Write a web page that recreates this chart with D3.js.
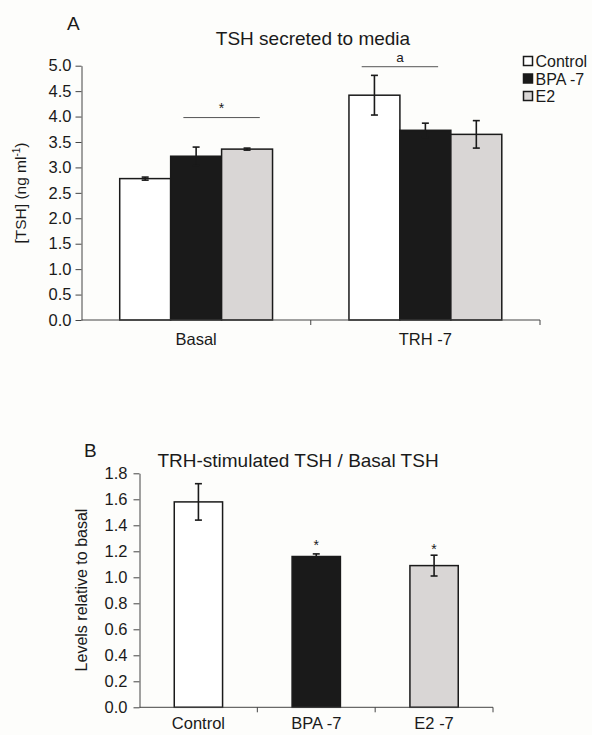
<!DOCTYPE html>
<html>
<head>
<meta charset="utf-8">
<script src="https://cdn.jsdelivr.net/npm/d3@7"></script>
<style>
  body { margin: 0; background: #fdfdfb; }
  svg { display: block; font-family: Arial, "Liberation Sans", sans-serif; }
</style>
</head>
<body>
<script>
// data
const groups = ["Basal", "TRH -7"];
const series = ["Control", "BPA -7", "E2"];
const basalMeans = [2.78, 3.22, 3.36];
const basalErr = [0.03, 0.18, 0.02];
const trhMeans = [4.42, 3.73, 3.65];
const trhErr = [0.39, 0.14, 0.27];
const ticksA = [0, 0.5, 1, 1.5, 2, 2.5, 3, 3.5, 4, 4.5, 5];

const ratioCats = ["Control", "BPA -7", "E2 -7"];
const ratioMeans = [1.58, 1.16, 1.09];
const ratioErr = [0.14, 0.02, 0.08];
const ticksB = [0, 0.2, 0.4, 0.6, 0.8, 1.0, 1.2, 1.4, 1.6, 1.8];

const fills = ["#ffffff", "#1a1a1a", "#d9d6d5"];
const ink = "#1a1a1a";

const width = 592, height = 735;
const svg = d3.select("body").append("svg")
    .attr("width", width)
    .attr("height", height);

// ---------- panel A ----------
const yA = d3.scaleLinear().domain([0, 5]).range([320, 65.7]);
const x0 = d3.scaleBand().domain(groups).range([81.5, 540]);
const x1 = d3.scaleBand().domain(series).range([0, x0.bandwidth()]).paddingOuter(0.75);

const rowsA = groups.map((g, gi) => series.map((s, si) => ({
    group: g, series: s, si: si,
    mean: gi === 0 ? basalMeans[si] : trhMeans[si],
    err: gi === 0 ? basalErr[si] : trhErr[si]
})));

svg.append("text").attr("x", 67).attr("y", 29.5)
    .attr("font-size", 19).attr("fill", ink).text("A");
svg.append("text").attr("x", 313).attr("y", 44.5)
    .attr("text-anchor", "middle").attr("font-size", 19).attr("fill", ink)
    .text("TSH secreted to media");

const gA = svg.append("g");
rowsA.flat().forEach(d => {
    const bx = x0(d.group) + x1(d.series);
    gA.append("rect")
        .attr("x", bx).attr("y", yA(d.mean))
        .attr("width", x1.bandwidth()).attr("height", yA(0) - yA(d.mean))
        .attr("fill", fills[d.si]).attr("stroke", ink).attr("stroke-width", 1.5);
});
rowsA.flat().forEach(d => {
    const cx = x0(d.group) + x1(d.series) + x1.bandwidth() / 2;
    drawErr(gA, cx, yA(d.mean + d.err), yA(d.mean - d.err));
});

function drawErr(g, cx, yTop, yBot) {
    g.append("line").attr("x1", cx).attr("x2", cx).attr("y1", yTop).attr("y2", yBot)
        .attr("stroke", ink).attr("stroke-width", 1.6);
    [yTop, yBot].forEach(yy => g.append("line")
        .attr("x1", cx - 3.5).attr("x2", cx + 3.5).attr("y1", yy).attr("y2", yy)
        .attr("stroke", ink).attr("stroke-width", 1.6));
}

// y axis A
const axA = svg.append("g").attr("transform", "translate(81.5,0)")
    .call(d3.axisLeft(yA).tickValues(ticksA).tickFormat(d3.format(".1f")).tickSize(6).tickSizeOuter(0));
axA.selectAll("text").attr("font-size", 16.5).attr("fill", ink).attr("dx", "-1").attr("font-family", null);
axA.selectAll("line,path").attr("stroke", "#444");

// x axis A
const xa = svg.append("g");
xa.append("line").attr("x1", x0.range()[0]).attr("x2", x0.range()[1])
    .attr("y1", yA(0)).attr("y2", yA(0)).attr("stroke", "#444");
groups.concat([null]).forEach((g, i) => {
    if (i === 0) return;
    const tx = g ? x0(g) : x0.range()[1];
    xa.append("line").attr("x1", tx).attr("x2", tx).attr("y1", yA(0)).attr("y2", yA(0) + 5)
        .attr("stroke", "#444");
});
groups.forEach(g => xa.append("text")
    .attr("x", x0(g) + x0.bandwidth() / 2).attr("y", 345)
    .attr("text-anchor", "middle").attr("font-size", 16.5).attr("fill", ink).text(g));

// y label A
const yla = svg.append("text")
    .attr("transform", `translate(26,193) rotate(-90)`)
    .attr("text-anchor", "middle").attr("font-size", 15.5).attr("fill", ink);
yla.append("tspan").text("[TSH] (ng ml");
yla.append("tspan").attr("font-size", 10).attr("dy", -6).text("-1");
yla.append("tspan").attr("dy", 6).text(")");

// significance marks A
const sigA = [
    { group: "Basal", from: "BPA -7", to: "E2", label: "*", y: 3.98 },
    { group: "TRH -7", from: "Control", to: "BPA -7", label: "a", y: 4.98 }
];
sigA.forEach(s => {
    const xs = x0(s.group) + x1(s.from) + x1.bandwidth() * 0.25;
    const xe = x0(s.group) + x1(s.to) + x1.bandwidth() * 0.75;
    svg.append("line").attr("x1", xs).attr("x2", xe).attr("y1", yA(s.y)).attr("y2", yA(s.y))
        .attr("stroke", "#555").attr("stroke-width", 1);
    svg.append("text").attr("x", (xs + xe) / 2).attr("y", yA(s.y) - (s.label === "*" ? 5 : 5))
        .attr("text-anchor", "middle").attr("font-size", s.label === "*" ? 14 : 13.5)
        .attr("fill", ink).text(s.label);
});

// legend
const leg = svg.append("g").attr("transform", "translate(523,56)");
series.forEach((s, i) => {
    const row = leg.append("g").attr("transform", `translate(0,${i * 17.5})`);
    row.append("rect").attr("x", 0.5).attr("y", 0.5).attr("width", 9).attr("height", 9)
        .attr("fill", fills[i]).attr("stroke", ink).attr("stroke-width", 1.5);
    row.append("text").attr("x", 12.5).attr("y", 11).attr("font-size", 16).attr("fill", ink).text(s);
});

// ---------- panel B ----------
const yB = d3.scaleLinear().domain([0, 1.8]).range([707.3, 473.3]);
const xB = d3.scaleBand().domain(ratioCats).range([139.5, 493]);
const barW = xB.bandwidth() * 0.41;

svg.append("text").attr("x", 84).attr("y", 457)
    .attr("font-size", 19).attr("fill", ink).text("B");
svg.append("text").attr("x", 298).attr("y", 467)
    .attr("text-anchor", "middle").attr("font-size", 19).attr("fill", ink)
    .text("TRH-stimulated TSH / Basal TSH");

const gB = svg.append("g");
ratioCats.forEach((c, i) => {
    const cx = xB(c) + xB.bandwidth() / 2;
    gB.append("rect")
        .attr("x", cx - barW / 2).attr("y", yB(ratioMeans[i]))
        .attr("width", barW).attr("height", yB(0) - yB(ratioMeans[i]))
        .attr("fill", fills[i]).attr("stroke", ink).attr("stroke-width", 1.5);
});
ratioCats.forEach((c, i) => {
    const cx = xB(c) + xB.bandwidth() / 2;
    drawErr(gB, cx, yB(ratioMeans[i] + ratioErr[i]), yB(ratioMeans[i] - ratioErr[i]));
    if (i > 0) {
        gB.append("text").attr("x", cx).attr("y", yB(ratioMeans[i] + ratioErr[i]) - (i === 1 ? 4 : 1))
            .attr("text-anchor", "middle").attr("font-size", 14).attr("fill", ink).text("*");
    }
});

const axB = svg.append("g").attr("transform", "translate(139.5,0)")
    .call(d3.axisLeft(yB).tickValues(ticksB).tickFormat(d3.format(".1f")).tickSize(6).tickSizeOuter(0));
axB.selectAll("text").attr("font-size", 16.5).attr("fill", ink).attr("dx", "-3").attr("font-family", null);
axB.selectAll("line,path").attr("stroke", "#444");

const xb = svg.append("g");
xb.append("line").attr("x1", xB.range()[0]).attr("x2", xB.range()[1])
    .attr("y1", yB(0)).attr("y2", yB(0)).attr("stroke", "#444");
ratioCats.forEach((c, i) => {
    const tx = i < ratioCats.length - 1 ? xB(ratioCats[i + 1]) : xB.range()[1];
    xb.append("line").attr("x1", tx).attr("x2", tx).attr("y1", yB(0)).attr("y2", yB(0) + 5)
        .attr("stroke", "#444");
    xb.append("text").attr("x", xB(c) + xB.bandwidth() / 2).attr("y", 729)
        .attr("text-anchor", "middle").attr("font-size", 16.5).attr("fill", ink).text(c);
});

svg.append("text")
    .attr("transform", `translate(87,590) rotate(-90)`)
    .attr("text-anchor", "middle").attr("font-size", 16).attr("fill", ink)
    .text("Levels relative to basal");
</script>
</body>
</html>
